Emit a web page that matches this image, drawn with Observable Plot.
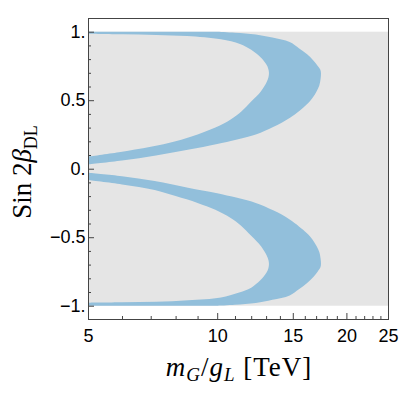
<!DOCTYPE html>
<html>
<head>
<meta charset="utf-8">
<script src="https://cdn.jsdelivr.net/npm/d3@7"></script>
<script src="https://cdn.jsdelivr.net/npm/@observablehq/plot@0.6"></script>
<style>
  html, body { margin: 0; padding: 0; background: #fff; }
  #chart svg { display: block; }
</style>
</head>
<body>
<div id="chart"></div>
<script>
// ---- data ----
const scanX = [5, 25];            // scanned range of m_G/g_L (gray region)
const scanY = [-1, 1];            // scanned range of Sin 2β_DL

// upper allowed band: outer edge, x reached at each Sin 2β (ascending)
const upperOuterY = [0.031, 0.06, 0.097, 0.14, 0.18, 0.25, 0.304, 0.372, 0.469, 0.52, 0.566, 0.61, 0.66, 0.695, 0.72, 0.75, 0.79, 0.835, 0.88, 0.925, 0.957, 0.98, 0.993, 1.0];
const upperOuterX = [5.0, 6.0, 7.2, 8.6, 10.0, 12.3, 13.5, 14.78, 16.16, 16.7, 17.05, 17.3, 17.42, 17.45, 17.4, 17.15, 16.75, 16.2, 15.5, 14.75, 13.45, 12.3, 11.0, 10.0];
// upper allowed band: inner edge
const upperInnerY = [0.088, 0.12, 0.16, 0.2, 0.25, 0.3, 0.36, 0.42, 0.49, 0.566, 0.635, 0.67, 0.70, 0.73, 0.76, 0.815, 0.868, 0.91, 0.944, 0.968, 0.976, 0.981, 0.985];
const upperInnerX = [5.0, 5.9, 7.0, 8.0, 9.0, 9.9, 10.75, 11.4, 12.0, 12.65, 13.05, 13.17, 13.2, 13.15, 13.02, 12.6, 12.0, 11.3, 10.2, 8.5, 7.2, 6.0, 5.0];

// lower allowed band: outer edge
const lowerOuterY = [-1.0, -0.993, -0.98, -0.957, -0.925, -0.88, -0.835, -0.79, -0.75, -0.72, -0.695, -0.66, -0.61, -0.566, -0.52, -0.469, -0.372, -0.304, -0.25, -0.18, -0.139, -0.09, -0.055, -0.03];
const lowerOuterX = [10.0, 11.0, 12.3, 13.45, 14.75, 15.5, 16.2, 16.75, 17.15, 17.4, 17.45, 17.42, 17.3, 17.05, 16.7, 16.16, 14.78, 13.5, 12.3, 10.0, 8.55, 7.15, 6.0, 5.0];
// lower allowed band: inner edge
const lowerInnerY = [-0.978, -0.975, -0.971, -0.96, -0.94, -0.905, -0.868, -0.815, -0.76, -0.73, -0.70, -0.67, -0.635, -0.566, -0.49, -0.415, -0.36, -0.3, -0.25, -0.2, -0.156, -0.115, -0.083];
const lowerInnerX = [5.0, 6.0, 7.2, 8.55, 10.2, 11.2, 12.0, 12.6, 13.02, 13.15, 13.2, 13.17, 13.05, 12.65, 12.0, 11.35, 10.75, 9.9, 9.0, 8.0, 7.15, 6.0, 5.0];

// ticks
const xTicks = [5, 10, 15, 20, 25];
const xTickLabels = ["5", "10", "15", "20", "25"];
const xMinorTicks = [6, 7, 8, 9, 11, 12, 13, 14, 16, 17, 18, 19, 21, 22, 23, 24];
const yTicks = [-1, -0.5, 0, 0.5, 1];
const yTickLabels = ["\u22121.", "\u22120.5", "0.", "0.5", "1."];
const yMinorTicks = [-0.9, -0.8, -0.7, -0.6, -0.4, -0.3, -0.2, -0.1, 0.1, 0.2, 0.3, 0.4, 0.6, 0.7, 0.8, 0.9];

// ---- tables built from the arrays ----
const edge = (xs, ys) => ys.map((y, i) => ({x: xs[i], y}));
const outerEdges = [edge(upperOuterX, upperOuterY), edge(lowerOuterX, lowerOuterY)];
const innerEdges = [edge(upperInnerX, upperInnerY), edge(lowerInnerX, lowerInnerY)];

const W = 407, H = 393;
const mL = 88, mR = 19, mT = 18, mB = 74;
const plotW = W - mL - mR, plotH = H - mT - mB;
const blue = "#92bfdb";
const gray = "#e5e5e5";
const tickFont = "'Liberation Sans', Arial, Helvetica, sans-serif";
const xLabelMap = new Map(xTicks.map((d, i) => [d, xTickLabels[i]]));
const yLabelMap = new Map(yTicks.map((d, i) => [d, yTickLabels[i]]));
const left = () => scanX[0];

const chart = Plot.plot({
  width: W,
  height: H,
  marginLeft: mL,
  marginRight: mR,
  marginTop: mT,
  marginBottom: mB,
  style: {background: "#fff", fontFamily: tickFont},
  x: {type: "log", domain: scanX, axis: null},
  y: {domain: [-1.097, 1.1], axis: null},
  marks: [
    Plot.rect([{x1: scanX[0], x2: scanX[1], y1: scanY[0], y2: scanY[1]}], {x1: "x1", x2: "x2", y1: "y1", y2: "y2", fill: gray}),
    // allowed bands: fill up to the outer edge, then cover the hollow up to the inner edge
    ...outerEdges.map(e => Plot.areaX(e, {y: "y", x1: left, x2: "x", curve: "catmull-rom", fill: blue, clip: true})),
    ...innerEdges.map(e => Plot.areaX(e, {y: "y", x1: left, x2: "x", curve: "catmull-rom", fill: gray, clip: true})),
    // inward ticks
    Plot.ruleX(xTicks, {x: d => d, insetTop: plotH - 6, stroke: "#444", strokeWidth: 1}),
    Plot.ruleX(xMinorTicks, {x: d => d, insetTop: plotH - 3, stroke: "#444", strokeWidth: 1}),
    Plot.ruleY(yTicks, {y: d => d, insetRight: plotW - 6, stroke: "#444", strokeWidth: 1}),
    Plot.ruleY(yMinorTicks, {y: d => d, insetRight: plotW - 3, stroke: "#444", strokeWidth: 1}),
    // tick labels
    Plot.axisX({ticks: xTicks, tickSize: 0, tickPadding: 10, tickFormat: d => xLabelMap.get(d), fontSize: 18, label: null, fill: "#000"}),
    Plot.axisY({ticks: yTicks, tickSize: 0, tickPadding: 3, tickFormat: d => yLabelMap.get(d), fontSize: 18, label: null, fill: "#000"}),
    Plot.frame({stroke: "#444", strokeWidth: 1})
  ]
});

document.getElementById("chart").appendChild(chart);

// axis titles with subscripts as real text
const svg = d3.select(chart);
const serif = "'Liberation Serif', 'Times New Roman', serif";

const xl = svg.append("text")
  .attr("x", mL + plotW / 2 + 1)
  .attr("y", 376)
  .attr("text-anchor", "middle")
  .attr("font-family", serif)
  .attr("font-size", 27)
  .attr("letter-spacing", 1)
  .attr("fill", "#000");
xl.append("tspan").attr("font-style", "italic").text("m");
xl.append("tspan").attr("font-style", "italic").attr("font-size", 19).attr("dy", 5).text("G");
xl.append("tspan").attr("dy", -5).text("/");
xl.append("tspan").attr("font-style", "italic").text("g");
xl.append("tspan").attr("font-style", "italic").attr("font-size", 19).attr("dy", 5).text("L");
xl.append("tspan").attr("dy", -5).text("\u00a0[TeV]");

const yl = svg.append("text")
  .attr("transform", `translate(31,172) rotate(-90)`)
  .attr("text-anchor", "middle")
  .attr("font-family", serif)
  .attr("font-size", 27)
  .attr("fill", "#000");
yl.append("tspan").text("Sin 2");
yl.append("tspan").attr("font-style", "italic").text("\u03b2");
yl.append("tspan").attr("font-size", 18).attr("dy", 6).text("DL");
</script>
</body>
</html>
